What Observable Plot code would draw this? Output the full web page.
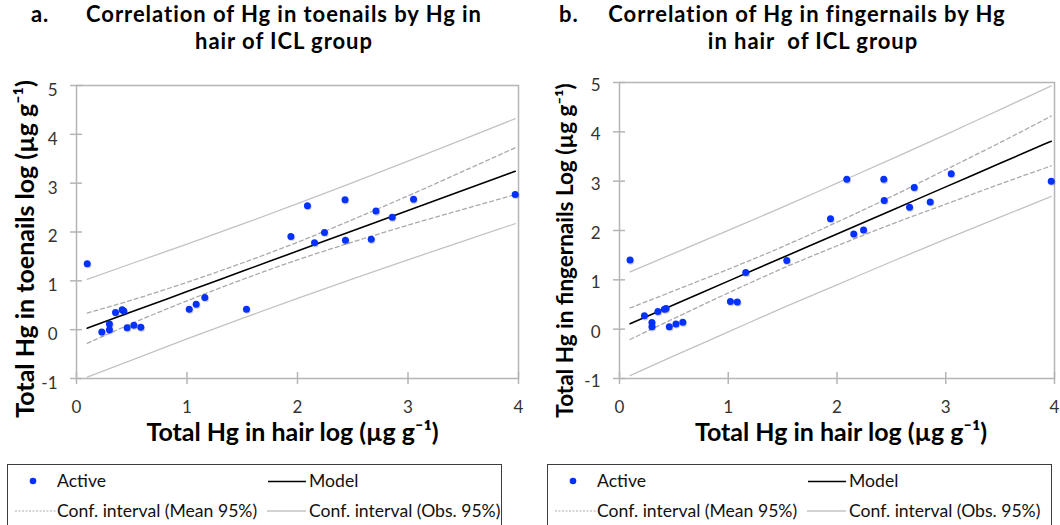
<!DOCTYPE html>
<html><head><meta charset="utf-8">
<script src="https://cdn.jsdelivr.net/npm/d3@7"></script>
<script src="https://cdn.jsdelivr.net/npm/@observablehq/plot@0.6"></script>
<style>
body{margin:0;background:#fff;}
#root{position:relative;width:1060px;height:525px;overflow:hidden;font-family:Lato,sans-serif;background:#fff;}
.abs{position:absolute;white-space:pre;}
.title{font-weight:700;font-size:22px;letter-spacing:0.95px;color:#000;line-height:normal;}
.legend{position:absolute;border:1px solid #3c3c3c;box-sizing:border-box;background:#fff;}
.lg-text{position:absolute;font-size:17.6px;color:#111;line-height:20px;white-space:nowrap;}
</style></head><body><div id="root"></div><script>
// ---- data ----
const hair = [0.097,0.229,0.298,0.298,0.353,0.413,0.428,0.458,0.519,0.582,1.02,1.083,1.161,1.538,1.94,2.09,2.154,2.244,2.43,2.434,2.667,2.71,2.857,3.05,3.97];
const toenails = [1.35,-0.05,0.115,0.0,0.35,0.41,0.38,0.04,0.09,0.05,0.42,0.52,0.66,0.42,1.91,2.54,1.78,1.99,2.66,1.83,1.85,2.43,2.30,2.67,2.77];
const fingernails = [1.40,0.27,0.134,0.047,0.357,0.405,0.42,0.047,0.107,0.14,0.56,0.55,1.15,1.39,2.24,3.04,1.93,2.01,3.04,2.61,2.47,2.87,2.58,3.15,3.00];
const xTicks = [0,1,2,3,4];
const yTicks = [-1,0,1,2,3,4,5];
const fitX = [0.097,0.5,1.0,1.5,2.0,2.5,3.0,3.5,3.97];
const modelA  = [0.030,0.365,0.78,1.195,1.61,2.025,2.44,2.855,3.245];
const meanUpA = [0.34,0.605,0.97,1.365,1.79,2.255,2.74,3.245,3.725];
const meanLoA = [-0.28,0.125,0.59,1.025,1.43,1.795,2.14,2.465,2.765];
const obsUpA  = [1.03,1.355,1.75,2.16,2.58,3.01,3.45,3.895,4.32];
const obsLoA  = [-0.97,-0.625,-0.19,0.23,0.64,1.04,1.43,1.815,2.17];
const modelB  = [0.112,0.497,0.974,1.452,1.929,2.407,2.884,3.362,3.81];
const meanUpB = [0.43,0.777,1.214,1.672,2.169,2.687,3.234,3.782,4.32];
const meanLoB = [-0.21,0.217,0.734,1.232,1.689,2.127,2.534,2.942,3.31];
const obsUpB  = [1.16,1.537,2.004,2.472,2.959,3.447,3.944,4.452,4.93];
const obsLoB  = [-0.94,-0.543,-0.056,0.432,0.899,1.367,1.824,2.272,2.69];
const xLabel = "Total Hg in hair log (µg g⁻¹)";
const yLabelA = "Total Hg in toenails log (µg g⁻¹)";
const yLabelB = "Total Hg in fingernails Log (µg g⁻¹)";
const legendLabels = ["Active","Model","Conf. interval (Mean 95%)","Conf. interval (Obs. 95%)"];

const root = document.getElementById("root");
const GRID = "#b5b5b5";
const fmt = d => String(d);

function panel(o){
  const pts = hair.map((x,i)=>({x, y:o.ys[i]}));
  const fit = fitX.map((x,i)=>({x, m:o.model[i], mu:o.meanUp[i], ml:o.meanLo[i], ou:o.obsUp[i], ol:o.obsLo[i]}));
  const svg = Plot.plot({
    width:530, height:462, marginLeft:o.ml, marginRight:o.mr, marginTop:o.mt, marginBottom:84,
    x:{domain:[0,4], axis:null}, y:{domain:[-1,5], axis:null},
    style:{fontFamily:"Lato, sans-serif", fontSize:"17px", color:"#333", background:"transparent", overflow:"visible"},
    marks:[
      Plot.frame({stroke:GRID, strokeWidth:1.5}),
      Plot.ruleX(xTicks,{x:d=>d, y1:-1, y2:-1, insetTop:-6, insetBottom:-6, stroke:GRID, strokeWidth:1.5}),
      Plot.ruleY(yTicks,{y:d=>d, x1:0, x2:0, insetLeft:-6, insetRight:-6, stroke:GRID, strokeWidth:1.5}),
      Plot.text(xTicks,{x:d=>d, y:-1, text:fmt, dy:22, lineAnchor:"top", textAnchor:"middle", fill:"#333", fontSize:17}),
      Plot.text(yTicks,{x:0, y:d=>d, text:fmt, dx:-19, dy:o.labDy, textAnchor:"end", fill:"#333", fontSize:17}),
      Plot.line(fit,{x:"x", y:"ou", stroke:"#c3c3c3", strokeWidth:1.3, curve:"monotone-x"}),
      Plot.line(fit,{x:"x", y:"ol", stroke:"#c3c3c3", strokeWidth:1.3, curve:"monotone-x"}),
      Plot.line(fit,{x:"x", y:"mu", stroke:"#ababab", strokeWidth:1.3, strokeDasharray:"4,3", curve:"monotone-x"}),
      Plot.line(fit,{x:"x", y:"ml", stroke:"#ababab", strokeWidth:1.3, strokeDasharray:"4,3", curve:"monotone-x"}),
      Plot.line(fit,{x:"x", y:"m", stroke:"#000", strokeWidth:1.6, curve:"monotone-x"}),
      Plot.dot(pts,{x:"x", y:"y", r:3.5, fill:"#000", fillOpacity:0.18, dx:0.8, dy:1.2}),
      Plot.dot(pts,{x:"x", y:"y", r:3.5, fill:"#0531ff"}),
      Plot.text([o.yLabel],{frameAnchor:"left", textAnchor:"middle", dx:-o.ytDx, dy:o.ytDy, rotate:-90, fontSize:o.ytSize, fontWeight:"bold", fill:"#000"}),
      Plot.text([xLabel],{frameAnchor:"bottom", textAnchor:"middle", dx:o.xtDx, dy:62, fontSize:25, fontWeight:"bold", fill:"#000"})
    ]
  });
  svg.style.position = "absolute";
  svg.style.left = o.left + "px";
  svg.style.top = "0px";
  root.appendChild(svg);
}

panel({ys:toenails, model:modelA, meanUp:meanUpA, meanLo:meanLoA, obsUp:obsUpA, obsLo:obsLoA,
  yLabel:yLabelA, ml:76, mr:12, mt:85, left:0, ytDx:51, ytDy:17, ytSize:25, xtDx:-5, labDy:5});
panel({ys:fingernails, model:modelB, meanUp:meanUpB, meanLo:meanLoB, obsUp:obsUpB, obsLo:obsLoB,
  yLabel:yLabelB, ml:89, mr:6, mt:82, left:530, ytDx:54, ytDy:20, ytSize:22.5, xtDx:4, labDy:3});

// ---- titles ----
function addDiv(cls, text, left, top, center){
  const d = document.createElement("div");
  d.className = "abs " + cls;
  d.textContent = text;
  d.style.left = left + "px";
  d.style.top = top + "px";
  if (center) d.style.transform = "translateX(-50%)";
  root.appendChild(d);
  return d;
}
addDiv("title","a.",31,0.2,false);
addDiv("title","Correlation of Hg in toenails by Hg in",284,0.2,true);
addDiv("title","hair of ICL group",284,27,true);
addDiv("title","b.",559,0.2,false);
addDiv("title","Correlation of Hg in fingernails by Hg",807,0.2,true);
addDiv("title","in hair  of ICL group",813,27,true);

// ---- legends ----
const lsvg = d3.select(root).append("svg").attr("width",1060).attr("height",525)
  .style("position","absolute").style("left","0px").style("top","0px").style("pointer-events","none");
function legend(off, w){
  const box = document.createElement("div");
  box.className = "legend";
  box.style.left = (7+off) + "px"; box.style.top = "464px";
  box.style.width = w + "px"; box.style.height = "90px";
  root.insertBefore(box, lsvg.node());
  lsvg.append("circle").attr("cx",33+off).attr("cy",481).attr("r",3.3).attr("fill","#0531ff");
  lsvg.append("line").attr("x1",268+off).attr("x2",306+off).attr("y1",481.5).attr("y2",481.5).attr("stroke","#000").attr("stroke-width",1.4);
  lsvg.append("line").attr("x1",15+off).attr("x2",56+off).attr("y1",511).attr("y2",511).attr("stroke","#ababab").attr("stroke-width",1.2).attr("stroke-dasharray","2,1.5");
  lsvg.append("line").attr("x1",267+off).attr("x2",306+off).attr("y1",511).attr("y2",511).attr("stroke","#c3c3c3").attr("stroke-width",1.3);
  addDiv("lg-text", legendLabels[0], 57+off, 471);
  addDiv("lg-text", legendLabels[1], 309+off, 471);
  addDiv("lg-text", legendLabels[2], 57+off, 501);
  addDiv("lg-text", legendLabels[3], 309+off, 501);
}
legend(0, 495);
legend(540, 505);
</script></body></html>
